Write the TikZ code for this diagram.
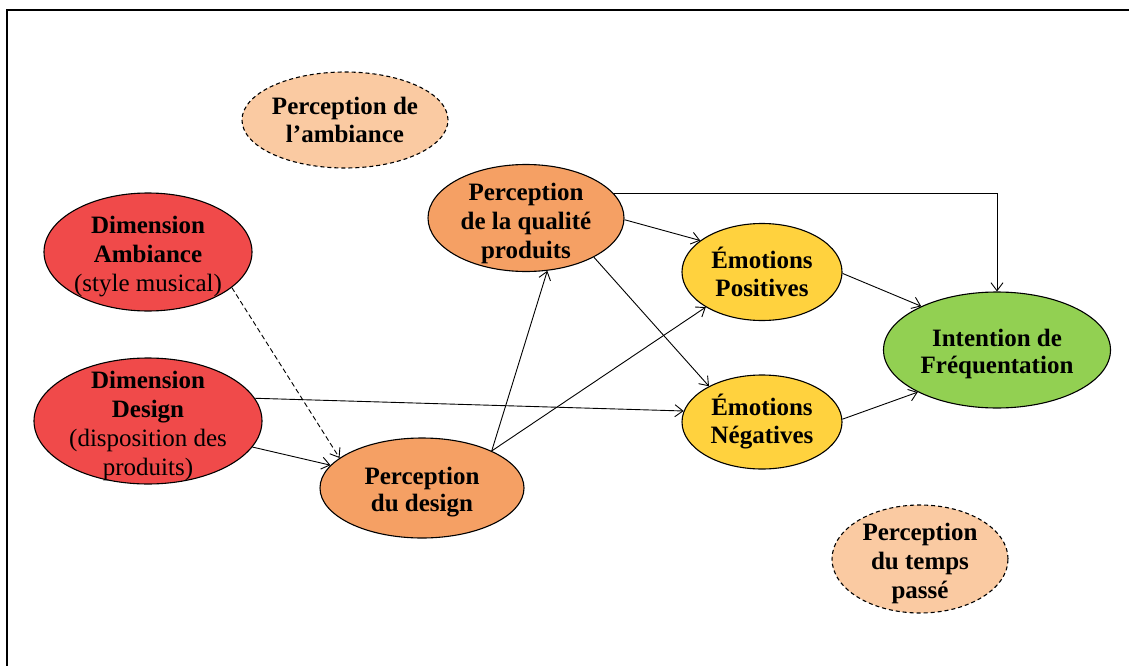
\documentclass[tikz,border=0pt]{standalone}
\usepackage{fontspec}
\setmainfont{Liberation Serif}
\usetikzlibrary{shapes.geometric,arrows.meta}

\definecolor{dimred}{RGB}{240,74,74}
\definecolor{percorange}{RGB}{245,160,100}
\definecolor{peach}{RGB}{250,202,162}
\definecolor{emoyellow}{RGB}{255,210,62}
\definecolor{intgreen}{RGB}{146,208,82}

\begin{document}
\begin{tikzpicture}[x=1pt,y=-1pt,
  oval/.style={ellipse, draw=black, line width=1.1pt, inner sep=0pt},
  optional/.style={oval, dash pattern=on 4pt off 3pt},
  lab/.style={align=center, inner sep=0pt,
    font=\fontsize{25}{29}\selectfont\bfseries},
  arr/.style={-{Straight Barb[length=8pt,width=12pt]}, line width=0.9pt},
]
\useasboundingbox (0,0) rectangle (1129,666);

% frame
\draw[line width=1.3pt] (1129,10) -- (7,10) -- (7,666);

% constructs (text nodes sit slightly below the centre of their ovals)
\node[optional, fill=peach, minimum width=206, minimum height=96] (pamb) at (345,120) {};
\node[lab, font=\fontsize{25}{28}\selectfont\bfseries] (pamb-t) at (pamb) {Perception de\\l’ambiance};

\node[oval, fill=dimred, minimum width=208, minimum height=118] (da) at (148,252) {};
\node[lab] (da-t) at ([yshift=-5]da) {Dimension\\Ambiance\\{\mdseries (style musical)}};

\node[oval, fill=dimred, minimum width=228, minimum height=126] (dd) at (148,421) {};
\node[lab] (dd-t) at ([yshift=-5]dd) {Dimension\\Design\\{\mdseries (disposition des}\\{\mdseries produits)}};

\node[oval, fill=percorange, minimum width=204, minimum height=100] (pd) at (422,488) {};
\node[lab, font=\fontsize{25}{27}\selectfont\bfseries] (pd-t) at ([yshift=-4]pd) {Perception\\du design};

\node[oval, fill=percorange, minimum width=196, minimum height=107] (pq) at (526,218) {};
\node[lab] (pq-t) at ([yshift=-5]pq) {Perception\\de la qualité\\produits};

\node[oval, fill=emoyellow, minimum width=160, minimum height=97] (ep) at (762,272) {};
\node[lab, font=\fontsize{25}{28}\selectfont\bfseries] (ep-t) at ([yshift=0]ep) {Émotions\\Positives};

\node[oval, fill=emoyellow, minimum width=160, minimum height=94] (en) at (762,422) {};
\node[lab, font=\fontsize{25}{28}\selectfont\bfseries] (en-t) at ([yshift=0]en) {Émotions\\Négatives};

\node[oval, fill=intgreen, minimum width=227, minimum height=116] (int) at (997,350) {};
\node[lab, font=\fontsize{25}{27}\selectfont\bfseries] (int-t) at ([yshift=-4]int) {Intention de\\Fréquentation};

\node[optional, fill=peach, minimum width=176, minimum height=108] (ptp) at (920,559) {};
\node[lab] (ptp-t) at ([yshift=-4]ptp) {Perception\\du temps\\passé};

% relations
\draw[arr, dash pattern=on 5pt off 3pt] (da.-23) -- (pd.160);
\draw[arr] (dd.-14) -- (pd.166);
\draw[arr] (dd.12) -- (en.172);
\draw[arr] (pd.28) -- (pq.-68);
\draw[arr] (pd.28) -- (ep.212);
\draw[arr] (pq.-1) -- (ep.153);
\draw[arr] (pq.-30) -- (en.146);
\draw[arr] (pq.16) -| (int.north);
\draw[arr] (ep.-1) -- (int.150);
\draw[arr] (en.2) -- (int.208);
\end{tikzpicture}
\end{document}
